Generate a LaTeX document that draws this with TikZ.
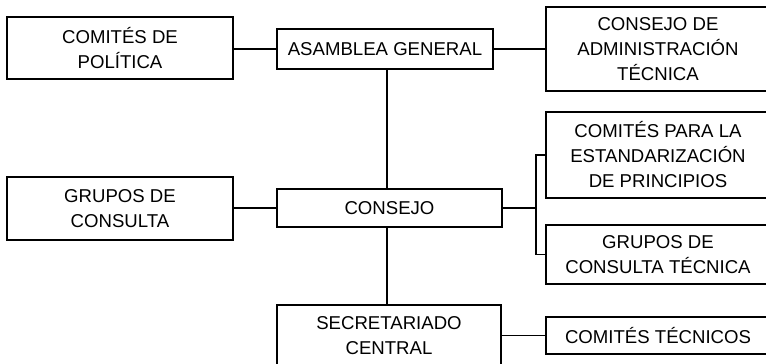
\documentclass[tikz,border=0pt]{standalone}
\usepackage{fontspec}
\setmainfont{Liberation Sans}
\begin{document}
\begin{tikzpicture}[x=1pt,y=-1pt,
  orgbox/.style={draw,line width=1.6pt,rectangle,inner sep=0pt,align=center,
    font=\fontsize{18.6}{25}\selectfont},
  link/.style={line width=1.6pt}]
\useasboundingbox (0,0) rectangle (766,364);
\clip (0,0) rectangle (766,364);
\node[orgbox,minimum width=226,minimum height=62] (pol) at (120,48) {COMITÉS DE\\POLÍTICA};
\node[orgbox,minimum width=216,minimum height=40] (asam) at (385,49) {ASAMBLEA GENERAL};
\node[orgbox,minimum width=224,minimum height=84] (cadm) at (658,49) {CONSEJO DE\\ADMINISTRACIÓN\\TÉCNICA};
\node[orgbox,minimum width=224,minimum height=86] (cpe) at (658,155) {COMITÉS PARA LA\\ESTANDARIZACIÓN\\DE PRINCIPIOS};
\node[orgbox,minimum width=224,minimum height=59] (gct) at (658,254.5) {GRUPOS DE\\CONSULTA TÉCNICA};
\node[orgbox,minimum width=224,minimum height=37] (ctec) at (658,335.5) {COMITÉS TÉCNICOS};
\node[orgbox,minimum width=225,minimum height=38] (cons) at (389.5,208) {CONSEJO};
\node[orgbox,minimum width=226,minimum height=63] (gc) at (120,208.5) {GRUPOS DE\\CONSULTA};
\node[orgbox,minimum width=224,minimum height=62] (sec) at (389,336) {SECRETARIADO\\CENTRAL};
\coordinate (brx) at (536,208);
\coordinate (vx) at (387,0);
\draw[link] (asam.west |- asam.west) -- (pol.east |- asam.west);
\draw[link] (asam.east) -- (cadm.west |- asam.east);
\draw[link] (asam.south -| vx) -- (cons.north -| vx);
\draw[link] (cons.south -| vx) -- (sec.north -| vx);
\draw[link] (cons.west) -- (gc.east |- cons.west);
\draw[link] (cons.east) -- (brx);
\draw[link] (cpe.west) -| (brx) |- (gct.west);
\draw[link] (sec.east |- ctec.west) -- (ctec.west);
\end{tikzpicture}
\end{document}
